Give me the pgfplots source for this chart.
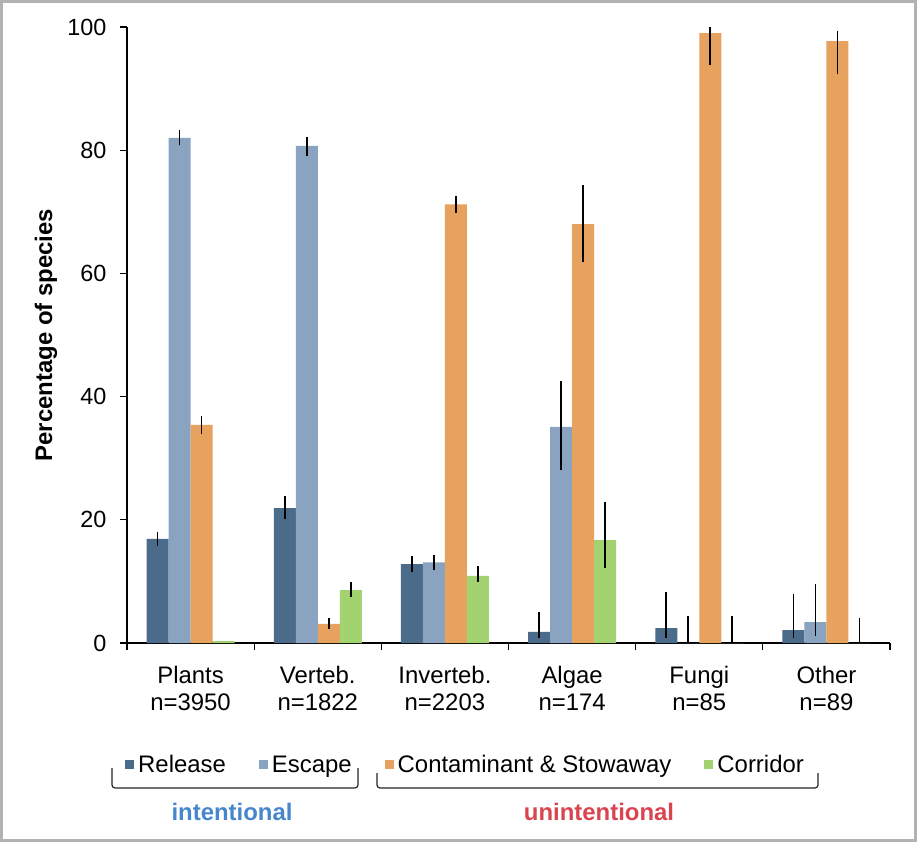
\documentclass[border=0pt]{standalone}
\usepackage{fontspec}
\setmainfont{Liberation Sans}
\usepackage{pgfplots}
\usepackage{pgfplotstable}
\pgfplotsset{compat=1.18}
\definecolor{relC}{RGB}{74,107,138}
\definecolor{escC}{RGB}{137,163,193}
\definecolor{conC}{RGB}{231,162,96}
\definecolor{corC}{RGB}{162,211,112}
\definecolor{intC}{RGB}{70,134,204}
\definecolor{unC}{RGB}{218,68,80}
\definecolor{frameC}{RGB}{178,178,178}

\pgfplotstableread{
x y ep em
0 16.9 1.1 1.1
1 21.9 1.9 1.7
2 12.8 1.3 1.3
3 1.8 3.2 1.0
4 2.4 5.9 1.6
5 2.1 5.9 1.3
}\release
\pgfplotstableread{
x y ep em
0 82.0 1.2 1.2
1 80.7 1.5 1.6
2 13.1 1.2 1.2
3 35.1 7.5 7.0
4 0 4.4 0
5 3.4 6.2 2.3
}\escape
\pgfplotstableread{
x y ep em
0 35.4 1.5 1.4
1 3.1 1.0 0.8
2 71.2 1.4 1.4
3 68.0 6.3 6.2
4 99.0 1.0 5.2
5 97.7 1.7 5.3
}\contam
\pgfplotstableread{
x y ep em
0 0.3 0 0
1 8.6 1.3 1.1
2 10.9 1.6 1.0
3 16.7 6.2 4.5
4 0 4.4 0
5 0 4.1 0
}\corridor

\newcommand{\txt}{\fontsize{24}{27}\selectfont}
\newcommand{\tck}{\fontsize{23.5}{27}\selectfont}

\begin{document}
\begin{tikzpicture}
\useasboundingbox (0,0) rectangle (919bp,-842bp);
\fill[white] (0,0) rectangle (919bp,-842bp);
\draw[frameC, line width=2.5bp] (1.5bp,-1.5bp) rectangle (915.5bp,-840.5bp);
\begin{axis}[
  at={(127bp,-643bp)}, anchor=south west,
  scale only axis, width=763bp, height=616bp,
  xmin=-0.5, xmax=5.5, ymin=0, ymax=100,
  clip=false,
  axis lines=left,
  axis line style={-, line width=1.1bp, black},
  ybar=0pt, bar width=22bp,
  tick align=outside,
  major tick length=7bp, minor tick length=7bp,
  tick style={line width=1.1bp, black},
  xtick={0,...,5},
  major x tick style={draw=none},
  minor xtick={-0.5,0.5,1.5,2.5,3.5,4.5,5.5},
  xticklabels={{Plants\\n=3950},{Verteb.\\n=1822},{Inverteb.\\n=2203},{Algae\\n=174},{Fungi\\n=85},{Other\\n=89}},
  xticklabel style={align=center, font=\txt, yshift=-13bp},
  ytick={0,20,...,100},
  yticklabel style={font=\tck, xshift=-10bp},
  /pgf/number format/assume math mode=true,
  every axis y label/.style={at={(axis description cs:-0.1062,0.5)}, rotate=90, anchor=center},
  ylabel={Percentage of species},
  ylabel style={font=\bfseries\txt},
  legend image code/.code={\fill[#1] (0bp,-4.5bp) rectangle (9bp,4.5bp);},
  legend columns=4,
  legend style={at={(axis description cs:-0.0026,-0.198)}, anchor=west, draw=none, fill=none, inner sep=0pt, font=\txt,
    nodes={inner xsep=4bp, inner ysep=0pt},
    /tikz/every even column/.append style={column sep=29bp}},
  error bars/y dir=both, error bars/y explicit,
  error bars/error mark=none,
  error bars/error bar style={line width=1.8bp, black},
]
\addplot[fill=relC, draw=none] table[x=x, y=y, y error plus=ep, y error minus=em] {\release};
\addplot[fill=escC, draw=none] table[x=x, y=y, y error plus=ep, y error minus=em] {\escape};
\addplot[fill=conC, draw=none] table[x=x, y=y, y error plus=ep, y error minus=em] {\contam};
\addplot[fill=corC, draw=none] table[x=x, y=y, y error plus=ep, y error minus=em] {\corridor};
\legend{Release, Escape, Contaminant \& Stowaway, Corridor}
\end{axis}
\draw[black!85, line width=1.2bp, rounded corners=3bp] (112bp,-768bp) -- (112bp,-788bp) -- (358bp,-788bp) -- (358bp,-768bp);
\draw[black!85, line width=1.2bp, rounded corners=3bp] (377bp,-773bp) -- (377bp,-788bp) -- (818bp,-788bp) -- (818bp,-773bp);
\node[font=\bfseries\txt, text=intC, anchor=base] at (232bp,-820bp) {intentional};
\node[font=\bfseries\txt, text=unC, anchor=base] at (599bp,-820bp) {unintentional};
\end{tikzpicture}
\end{document}
